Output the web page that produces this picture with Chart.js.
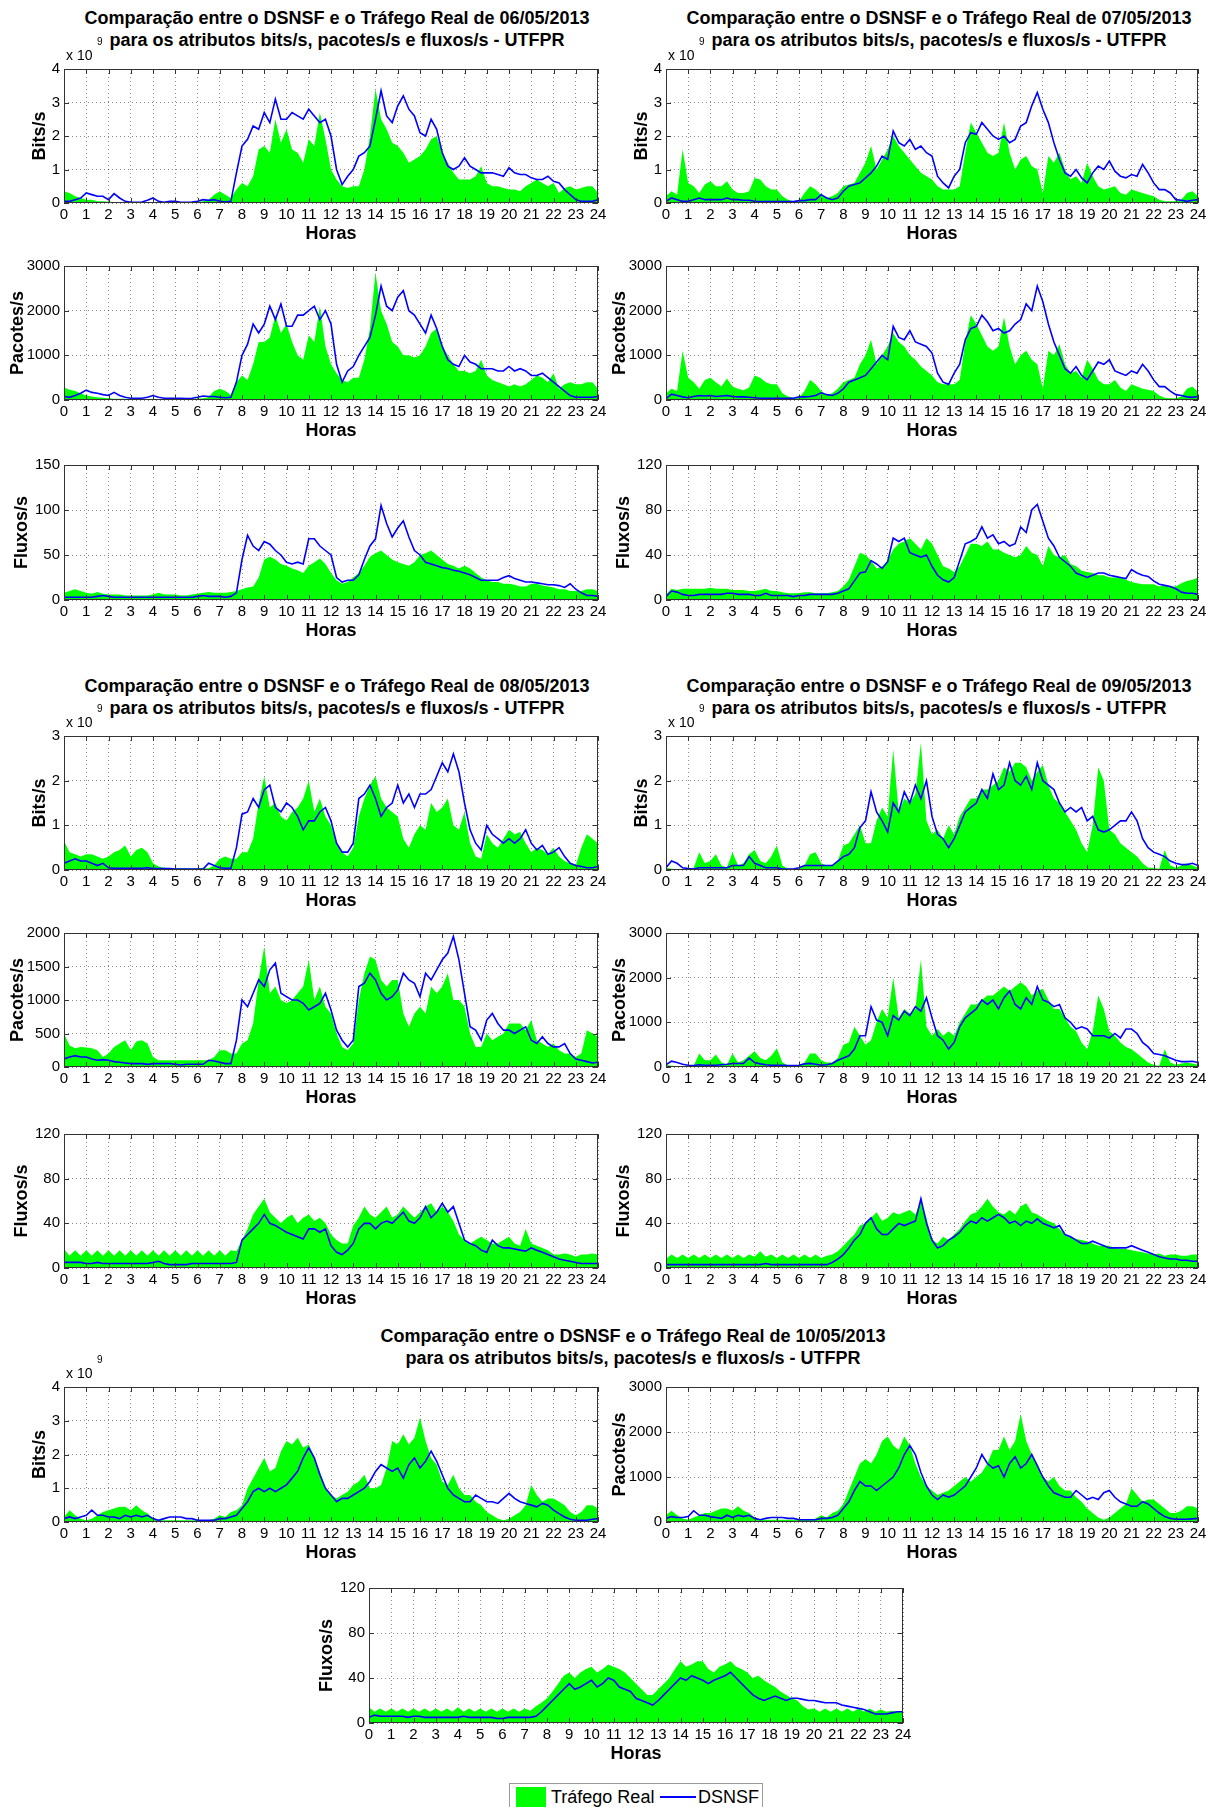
<!DOCTYPE html>
<html lang="pt">
<head>
<meta charset="utf-8">
<title>DSNSF x Tráfego Real - UTFPR</title>
<script src="https://cdn.jsdelivr.net/npm/chart.js@4.4.1/dist/chart.umd.min.js"></script>
<style>
  body { margin: 0; width: 1217px; height: 1807px; position: relative; background: #fff; overflow: hidden;
         font-family: 'Liberation Sans', Arial, Helvetica, sans-serif; color: #000; }
  canvas { position: absolute; }
  .titulo { position: absolute; width: 560px; text-align: center; font-weight: bold; font-size: 18px; line-height: 22px; white-space: nowrap; }
  .exp { position: absolute; font-size: 14px; line-height: 16px; }
  .exp9 { position: absolute; font-size: 10px; line-height: 12px; }
  #legenda { position: absolute; left: 509px; top: 1783px; width: 252px; height: 30px; border: 1px solid #999; background: #fff; font-size: 18px; }
  #legenda .patch { position: absolute; left: 6px; top: 3px; width: 30px; height: 20px; background: #00ff00; }
  #legenda .linha { position: absolute; left: 150px; top: 12px; width: 36px; height: 2px; background: #0000ff; }
  #legenda .txt { position: absolute; top: 2px; line-height: 22px; }
</style>
</head>
<body>
<div class="titulo" style="left:57px;top:7px">Comparação entre o DSNSF e o Tráfego Real de 06/05/2013<br>para os atributos bits/s, pacotes/s e fluxos/s - UTFPR</div>
<div class="titulo" style="left:659px;top:7px">Comparação entre o DSNSF e o Tráfego Real de 07/05/2013<br>para os atributos bits/s, pacotes/s e fluxos/s - UTFPR</div>
<div class="titulo" style="left:57px;top:675px">Comparação entre o DSNSF e o Tráfego Real de 08/05/2013<br>para os atributos bits/s, pacotes/s e fluxos/s - UTFPR</div>
<div class="titulo" style="left:659px;top:675px">Comparação entre o DSNSF e o Tráfego Real de 09/05/2013<br>para os atributos bits/s, pacotes/s e fluxos/s - UTFPR</div>
<div class="titulo" style="left:353px;top:1325px">Comparação entre o DSNSF e o Tráfego Real de 10/05/2013<br>para os atributos bits/s, pacotes/s e fluxos/s - UTFPR</div>

<div id="legenda">
  <span class="patch"></span><span class="txt" style="left:41px">Tráfego Real</span>
  <span class="linha"></span><span class="txt" style="left:188px">DSNSF</span>
</div>

<script>
// eixos
const hourTicks = [0,1,2,3,4,5,6,7,8,9,10,11,12,13,14,15,16,17,18,19,20,21,22,23,24];
const bitsTicks4 = [0, 1, 2, 3, 4];
const bitsTicks3 = [0, 1, 2, 3];
const pacTicks3000 = [0, 1000, 2000, 3000];
const pacTicks2000 = [0, 500, 1000, 1500, 2000];
const fluTicks150 = [0, 50, 100, 150];
const fluTicks120 = [0, 40, 80, 120];

// amostras a cada 15 min (0h a 24h); bits em unidades de 10^9
const real0605Bits = [
  0.35,0.3,0.2,0.15, 0.1,0.1,0.05,0.05, 0.04,0.03,0.03,0.03, 0.02,0.02,0.03,0.03,
  0.03,0.02,0.02,0.02, 0.02,0.02,0.02,0.03, 0.03,0.05,0.1,0.25, 0.35,0.25,0.15,0.4,
  0.6,0.5,0.8,1.6, 1.7,1.5,2.5,1.8, 2.2,1.6,1.5,1.2, 1.9,1.7,2.7,1.9,
  1.0,0.7,0.5,0.45, 0.5,0.5,1.0,2.0, 3.4,2.5,2.2,1.8, 1.7,1.5,1.2,1.3,
  1.4,1.6,1.9,2.0, 1.5,1.2,0.9,0.7, 0.7,0.7,0.8,1.1, 0.6,0.5,0.5,0.45,
  0.4,0.4,0.35,0.5, 0.6,0.7,0.6,0.5, 0.6,0.3,0.45,0.5, 0.4,0.45,0.5,0.5,
  0.3];
const dsnsf0605Bits = [
  0.05,0.05,0.1,0.15, 0.3,0.25,0.2,0.2, 0.1,0.28,0.15,0.05, 0.02,0.02,0.03,0.08,
  0.15,0.05,0.02,0.05, 0.05,0.02,0.02,0.03, 0.05,0.1,0.08,0.1, 0.05,0.03,0.05,0.9,
  1.7,1.9,2.3,2.2, 2.7,2.4,3.1,2.5, 2.5,2.7,2.6,2.5, 2.8,2.6,2.4,2.5,
  2.0,1.0,0.55,0.8, 1.0,1.4,1.5,1.7, 2.5,3.35,2.6,2.4, 2.9,3.2,2.8,2.6,
  2.1,2.0,2.5,2.2, 1.5,1.1,1.0,1.1, 1.35,1.1,1.0,0.9, 0.9,0.9,0.85,0.8,
  1.05,0.9,0.85,0.85, 0.75,0.7,0.7,0.8, 0.65,0.6,0.4,0.25, 0.1,0.05,0.05,0.05,
  0.1];
const real0605Pac = [
  280,230,200,150, 100,80,60,50, 40,30,30,30, 25,25,25,25,
  30,25,25,25, 25,25,25,30, 30,40,60,200, 250,200,120,400,
  550,450,800,1300, 1300,1400,1900,1500, 1700,1300,1000,900, 1450,1300,2100,1200,
  800,600,450,400, 500,500,900,1600, 2850,2000,1700,1300, 1200,1000,1000,950,
  1000,1200,1500,1600, 1200,1000,800,650, 650,600,650,900, 550,450,400,350,
  300,350,300,350, 450,550,500,400, 600,250,350,400, 350,350,400,400,
  250];
const dsnsf0605Pac = [
  80,60,100,150, 220,170,150,120, 100,170,100,60, 40,40,40,60,
  100,60,40,40, 40,40,30,40, 60,90,80,80, 60,50,60,400,
  1000,1250,1700,1500, 1700,2100,1800,2150, 1650,1650,1900,1900, 2000,2100,1800,2000,
  1700,800,400,650, 750,1000,1200,1400, 1900,2550,2100,2000, 2300,2450,2000,1900,
  1700,1500,1900,1600, 1200,900,800,750, 1000,850,800,700, 700,700,650,650,
  750,650,700,650, 550,550,600,500, 400,300,200,100, 60,60,60,60,
  80];
const real0605Flu = [
  8,10,12,10, 8,7,9,7, 6,6,6,5, 5,5,5,5,
  6,8,6,6, 6,5,5,6, 7,8,9,8, 8,8,9,10,
  12,14,15,25, 45,48,45,40, 38,35,33,30, 38,42,46,40,
  30,22,18,20, 25,30,38,48, 52,55,50,45, 42,40,38,42,
  50,52,55,50, 45,40,38,35, 38,35,30,25, 22,20,20,18,
  18,17,15,15, 18,18,16,15, 14,12,12,10, 10,10,12,12,
  10];
const dsnsf0605Flu = [
  3,3,3,3, 3,3,4,5, 4,3,3,3, 3,3,3,3,
  3,3,3,3, 3,3,3,3, 4,5,4,4, 4,3,4,8,
  45,72,60,55, 65,62,55,50, 42,40,42,40, 68,68,60,55,
  50,25,20,22, 22,28,45,60, 68,105,85,70, 80,88,70,55,
  50,42,40,38, 36,35,33,32, 30,28,25,22, 22,22,22,25,
  27,24,22,20, 20,19,18,17, 17,16,14,18, 12,8,5,5,
  4];

const real0705Bits = [
  0.2,0.35,0.25,1.6, 0.6,0.5,0.3,0.55, 0.65,0.5,0.5,0.65, 0.4,0.3,0.3,0.35,
  0.75,0.7,0.5,0.4, 0.4,0.2,0.1,0.05, 0.05,0.3,0.5,0.4, 0.25,0.15,0.2,0.3,
  0.5,0.55,0.6,0.9, 1.2,1.7,1.0,1.3, 1.6,2.0,1.7,1.5, 1.3,1.1,0.9,0.8,
  0.7,0.5,0.4,0.4, 0.4,0.5,1.5,2.4, 2.1,1.8,1.5,1.4, 1.5,2.4,1.5,1.0,
  1.3,1.4,1.1,1.0, 0.3,1.4,1.2,1.5, 1.0,0.7,0.8,0.6, 1.2,0.8,0.5,0.4,
  0.45,0.5,0.3,0.25, 0.4,0.35,0.3,0.25, 0.2,0.1,0.05,0.05, 0.05,0.1,0.3,0.35,
  0.2];
const dsnsf0705Bits = [
  0.05,0.15,0.1,0.05, 0.05,0.1,0.15,0.1, 0.1,0.1,0.1,0.15, 0.1,0.1,0.08,0.08,
  0.05,0.04,0.04,0.04, 0.04,0.04,0.04,0.04, 0.07,0.07,0.1,0.1, 0.25,0.15,0.1,0.15,
  0.35,0.5,0.55,0.6, 0.75,0.9,1.1,1.4, 1.3,2.15,1.8,1.7, 1.9,1.6,1.7,1.5,
  1.4,0.8,0.6,0.45, 0.8,1.0,1.8,2.1, 2.05,2.4,2.2,2.0, 1.9,2.0,1.8,1.9,
  2.3,2.4,2.9,3.3, 2.8,2.4,1.8,1.3, 0.9,0.8,1.0,0.75, 0.6,0.9,1.1,1.0,
  1.25,0.95,0.8,0.75, 0.85,0.8,1.15,0.9, 0.6,0.4,0.4,0.3, 0.1,0.08,0.05,0.08,
  0.1];
const real0705Pac = [
  150,250,200,1100, 500,400,250,450, 500,400,300,480, 300,250,220,280,
  550,500,400,350, 350,150,80,50, 50,200,450,350, 200,120,150,250,
  400,450,500,800, 1000,1350,800,1000, 1200,1500,1300,1200, 1000,900,750,650,
  550,400,350,350, 350,450,1300,1900, 1700,1450,1200,1100, 1200,1850,1200,800,
  1000,1100,900,800, 250,1100,1000,1250, 800,600,650,500, 900,700,450,350,
  350,450,280,200, 350,300,250,230, 200,100,50,40, 40,80,250,300,
  180];
const dsnsf0705Pac = [
  30,130,100,70, 50,80,100,90, 100,80,90,100, 80,70,70,60,
  50,40,40,40, 40,40,40,40, 70,70,80,100, 160,120,100,150,
  250,400,450,500, 550,700,850,1000, 900,1650,1400,1350, 1550,1300,1250,1200,
  1050,600,400,350, 600,800,1350,1600, 1650,1900,1750,1550, 1600,1500,1550,1700,
  1800,2150,2000,2550, 2200,1700,1300,1000, 700,600,750,550, 450,650,850,800,
  900,650,600,550, 650,600,800,650, 450,300,300,200, 120,100,70,60,
  80];
const real0705Flu = [
  5,10,9,10, 10,10,10,10, 11,10,10,10, 9,9,9,8,
  8,9,10,8, 8,7,6,6, 6,7,7,6, 6,6,7,8,
  12,18,30,42, 40,35,28,30, 35,45,50,52, 55,50,45,55,
  50,40,30,28, 25,30,40,50, 50,48,52,45, 45,42,40,38,
  40,48,42,40, 30,48,40,38, 40,32,30,26, 25,24,22,22,
  20,20,20,18, 16,15,14,14, 14,12,13,12, 12,15,17,18,
  20];
const dsnsf0705Flu = [
  3,8,7,5, 4,4,5,5, 5,5,5,6, 6,5,5,5,
  4,4,6,4, 4,4,4,3, 4,4,5,5, 5,5,5,6,
  8,10,17,24, 25,35,32,28, 34,55,52,55, 42,40,38,40,
  30,22,18,16, 20,35,50,52, 55,65,55,58, 50,52,48,50,
  65,60,80,85, 70,55,48,38, 34,30,24,22, 20,22,24,24,
  22,21,20,19, 27,24,22,21, 17,14,13,12, 10,7,6,6,
  5];

const real0805Bits = [
  0.65,0.4,0.35,0.3, 0.35,0.35,0.3,0.25, 0.3,0.4,0.45,0.55, 0.3,0.45,0.5,0.4,
  0.15,0.08,0.05,0.04, 0.04,0.04,0.04,0.03, 0.04,0.04,0.04,0.1, 0.25,0.3,0.25,0.25,
  0.4,0.4,0.7,1.5, 2.1,1.4,1.5,1.2, 1.1,1.3,1.4,1.6, 2.0,1.3,1.6,1.2,
  1.0,0.6,0.4,0.3, 0.5,1.2,1.6,1.9, 2.1,1.6,1.4,1.3, 1.2,0.7,0.5,0.8,
  1.0,0.9,1.5,1.3, 1.4,1.6,1.0,0.9, 1.3,0.6,0.3,0.25, 0.8,0.6,0.5,0.7,
  0.9,0.8,0.85,0.6, 0.4,0.5,0.45,0.35, 0.5,0.3,0.2,0.15, 0.1,0.5,0.8,0.7,
  0.6];
const dsnsf0805Bits = [
  0.15,0.2,0.25,0.2, 0.2,0.15,0.1,0.15, 0.05,0.04,0.04,0.04, 0.04,0.04,0.04,0.05,
  0.03,0.03,0.03,0.03, 0.02,0.02,0.02,0.02, 0.02,0.02,0.15,0.1, 0.05,0.04,0.04,0.5,
  1.25,1.3,1.6,1.4, 1.8,1.9,1.4,1.3, 1.5,1.4,1.2,0.9, 1.1,1.1,1.3,1.4,
  1.1,0.6,0.4,0.4, 0.6,1.6,1.7,1.9, 1.6,1.2,1.4,1.5, 1.9,1.5,1.7,1.4,
  1.7,1.7,1.8,2.1, 2.4,2.2,2.6,2.2, 1.5,0.9,0.6,0.45, 1.0,0.8,0.7,0.6,
  0.7,0.6,0.7,0.9, 0.6,0.45,0.55,0.35, 0.4,0.5,0.3,0.15, 0.1,0.08,0.05,0.05,
  0.08];
const real0805Pac = [
  500,320,280,300, 290,280,250,150, 200,300,350,400, 250,380,400,350,
  150,100,100,100, 100,100,100,100, 100,100,100,150, 250,250,200,200,
  350,400,650,1300, 1800,1100,1200,1000, 950,1000,1100,1200, 1600,1000,1200,900,
  800,500,300,250, 350,1000,1400,1650, 1600,1300,1200,1300, 1300,800,600,800,
  900,800,1200,1100, 1200,1400,1000,1000, 900,500,300,300, 500,400,450,500,
  650,650,650,550, 700,400,350,300, 350,250,200,200, 150,200,550,500,
  450];
const dsnsf0805Pac = [
  120,150,170,150, 150,120,100,110, 100,80,70,60, 50,50,50,40,
  50,50,50,50, 40,30,40,40, 40,40,100,90, 70,50,50,400,
  1000,900,1100,1300, 1200,1450,1550,1100, 1050,1000,1000,950, 850,900,950,1100,
  850,550,400,300, 400,1200,1250,1400, 1300,1100,1000,1050, 1150,1400,1300,1250,
  1050,1400,1300,1450, 1600,1700,1950,1600, 1100,600,550,400, 700,800,650,550,
  550,500,550,600, 400,350,450,350, 300,300,350,200, 120,100,80,60,
  70];
const real0805Flu = [
  17,11,16,11, 16,11,16,11, 16,11,16,11, 16,11,16,11,
  16,11,16,11, 16,11,16,11, 16,11,16,11, 16,11,16,15,
  25,35,48,55, 62,50,45,40, 45,48,40,45, 48,42,45,40,
  30,25,22,22, 38,45,55,48, 45,50,55,45, 48,55,50,45,
  50,55,58,50, 55,50,42,30, 25,22,25,28, 25,22,22,25,
  28,22,20,35, 22,20,18,16, 12,12,13,12, 10,12,12,13,
  12];
const dsnsf0805Flu = [
  5,5,5,5, 4,4,5,4, 4,4,4,4, 4,4,4,4,
  5,6,4,3, 3,3,3,4, 4,4,4,4, 4,4,4,5,
  25,30,35,40, 48,40,38,35, 32,30,28,26, 35,35,32,35,
  20,14,12,16, 22,35,40,40, 35,40,42,40, 45,50,42,40,
  45,55,45,50, 58,50,55,40, 25,22,20,16, 14,25,20,18,
  18,17,16,15, 18,16,14,12, 10,8,7,6, 5,4,4,4,
  4];

const real0905Bits = [
  0.05,0.03,0.02,0.02, 0.02,0.05,0.4,0.15, 0.2,0.35,0.1,0.05, 0.4,0.1,0.15,0.35,
  0.45,0.2,0.15,0.3, 0.55,0.1,0.03,0.02, 0.02,0.1,0.35,0.4, 0.15,0.1,0.1,0.2,
  0.55,0.6,0.8,1.0, 0.6,0.6,1.1,1.4, 1.2,2.7,1.3,1.6, 1.5,1.7,2.85,1.1,
  0.8,0.9,0.7,1.0, 0.8,1.2,1.4,1.6, 1.6,1.8,1.8,1.9, 2.0,2.3,2.2,2.4,
  2.4,2.3,2.0,2.2, 2.35,1.9,1.6,1.5, 1.3,1.1,0.9,0.6, 0.4,1.0,2.3,2.0,
  0.9,0.8,0.6,0.5, 0.4,0.3,0.15,0.05, 0.05,0.02,0.45,0.1, 0.05,0.1,0.15,0.1,
  0.05];
const dsnsf0905Bits = [
  0.05,0.2,0.15,0.05, 0.03,0.02,0.05,0.05, 0.05,0.05,0.05,0.05, 0.1,0.1,0.1,0.3,
  0.15,0.1,0.05,0.05, 0.05,0.02,0.02,0.02, 0.05,0.1,0.1,0.1, 0.1,0.1,0.1,0.2,
  0.3,0.35,0.5,0.95, 1.1,1.75,1.3,1.1, 0.85,1.5,1.3,1.75, 1.5,1.9,1.6,2.0,
  1.2,0.8,0.7,0.5, 0.7,1.0,1.3,1.4, 1.5,1.8,1.6,2.15, 1.8,1.9,2.4,2.0,
  1.9,2.1,1.8,2.4, 2.0,1.9,1.8,1.5, 1.3,1.4,1.3,1.4, 1.1,1.2,0.9,0.85,
  0.9,1.0,1.1,1.1, 1.3,1.1,0.7,0.5, 0.4,0.35,0.3,0.2, 0.15,0.12,0.12,0.15,
  0.1];
const real0905Pac = [
  50,30,20,20, 20,30,300,150, 150,280,100,50, 300,100,150,250,
  350,200,150,250, 420,100,40,30, 30,100,300,300, 150,100,100,200,
  500,550,900,700, 500,600,1000,1300, 1100,2000,1100,1300, 1200,1300,2400,900,
  700,850,700,800, 700,1000,1200,1400, 1400,1500,1600,1600, 1700,1800,1700,1800,
  1900,1800,1600,1700, 1750,1500,1300,1300, 1100,900,800,550, 400,800,1600,1300,
  800,700,550,450, 400,300,200,100, 50,20,400,100, 50,80,100,80,
  50];
const dsnsf0905Pac = [
  50,130,100,60, 40,30,50,40, 40,40,50,60, 80,80,80,200,
  100,70,50,40, 40,40,30,30, 40,70,80,60, 40,50,80,150,
  200,250,400,700, 700,1350,1050,1000, 700,1150,1050,1250, 1150,1350,1250,1550,
  1100,700,600,400, 550,900,1100,1200, 1300,1500,1400,1500, 1300,1550,1700,1400,
  1300,1550,1400,1800, 1500,1450,1350,1400, 1100,1000,850,900, 850,700,700,700,
  650,750,650,850, 850,750,550,450, 300,280,250,200, 150,120,120,130,
  100];
const real0905Flu = [
  8,12,9,12, 9,12,9,12, 9,12,9,12, 9,12,9,12,
  10,15,10,12, 9,12,9,12, 9,12,9,12, 9,11,12,15,
  20,25,30,38, 40,45,50,42, 45,50,48,50, 52,48,60,45,
  25,22,28,25, 30,35,42,48, 50,55,62,55, 50,48,52,48,
  55,58,50,48, 45,42,40,35, 30,28,26,25, 24,22,20,20,
  20,18,17,17, 16,15,14,13, 12,13,11,12, 12,11,11,12,
  12];
const dsnsf0905Flu = [
  3,3,3,3, 3,3,3,3, 3,3,3,3, 3,3,3,3,
  3,3,4,3, 3,3,3,3, 3,3,3,3, 3,3,5,8,
  12,18,25,30, 40,45,35,30, 30,35,40,38, 40,42,62,40,
  25,18,20,25, 28,32,38,42, 40,45,42,45, 48,45,40,42,
  38,42,40,44, 40,38,36,38, 30,28,25,22, 22,24,22,20,
  18,18,18,18, 20,18,16,14, 12,10,9,8, 8,7,7,6,
  6];

const real1005Bits = [
  0.15,0.35,0.2,0.1, 0.05,0.1,0.2,0.3, 0.35,0.4,0.45,0.45, 0.35,0.5,0.35,0.25,
  0.1,0.05,0.05,0.05, 0.05,0.05,0.05,0.05, 0.05,0.05,0.05,0.1, 0.2,0.15,0.3,0.35,
  0.5,1.0,1.3,1.6, 1.9,1.5,1.6,2.1, 2.4,2.3,2.5,2.2, 2.3,1.9,1.5,1.0,
  0.8,0.7,0.8,0.9, 1.1,1.2,1.4,1.0, 1.0,1.1,1.6,2.4, 2.3,2.6,2.3,2.5,
  3.1,2.4,1.9,1.7, 1.2,1.1,1.4,1.0, 0.8,0.8,0.6,0.5, 0.3,0.2,0.1,0.05,
  0.1,0.2,0.3,0.5, 1.1,0.8,0.6,0.7, 0.7,0.6,0.5,0.3, 0.2,0.3,0.5,0.5,
  0.4];
const dsnsf1005Bits = [
  0.1,0.15,0.1,0.15, 0.2,0.35,0.2,0.2, 0.15,0.15,0.1,0.2, 0.15,0.2,0.15,0.2,
  0.1,0.05,0.1,0.15, 0.15,0.15,0.1,0.1, 0.05,0.05,0.05,0.05, 0.1,0.1,0.15,0.2,
  0.4,0.6,0.9,1.0, 0.9,1.0,0.9,1.0, 1.1,1.3,1.5,1.9, 2.2,1.9,1.4,1.0,
  0.8,0.6,0.7,0.7, 0.8,0.9,1.0,1.2, 1.5,1.7,1.6,1.5, 1.6,1.3,1.7,1.9,
  1.6,1.8,2.1,1.8, 1.4,1.0,0.8,0.7, 0.6,0.6,0.8,0.7, 0.6,0.6,0.55,0.7,
  0.85,0.7,0.6,0.55, 0.5,0.45,0.55,0.5, 0.35,0.25,0.15,0.08, 0.05,0.05,0.05,0.08,
  0.1];
const real1005Pac = [
  150,250,150,80, 50,100,150,200, 200,250,300,300, 250,350,250,200,
  100,50,50,50, 50,50,50,50, 50,50,50,80, 150,100,200,250,
  400,700,1000,1300, 1400,1300,1500,1800, 1900,1700,1600,1900, 1700,1300,1000,800,
  700,600,650,700, 800,900,1000,900, 1000,1100,1300,1600, 1600,1900,1600,1800,
  2400,1800,1500,1300, 1000,900,1000,800, 700,700,550,450, 300,200,100,50,
  100,200,300,400, 750,600,450,500, 500,400,300,200, 200,250,350,350,
  300];
const dsnsf1005Pac = [
  80,120,100,100, 120,250,150,150, 120,100,80,150, 100,150,120,150,
  80,50,80,100, 100,100,80,80, 50,50,50,50, 80,80,100,150,
  300,450,700,900, 800,800,700,800, 900,1000,1200,1500, 1700,1500,1100,800,
  600,500,600,550, 600,700,800,1000, 1200,1500,1300,1200, 1250,1000,1300,1450,
  1200,1300,1500,1250, 1000,800,650,600, 550,550,700,600, 500,550,500,650,
  700,550,450,400, 350,350,450,400, 300,200,120,80, 60,60,60,70,
  80];
const real1005Flu = [
  14,10,13,10, 13,10,13,10, 13,10,13,10, 13,10,13,10,
  14,10,13,10, 13,10,13,10, 13,10,13,10, 13,11,15,18,
  22,28,35,42, 45,40,45,48, 50,45,48,52, 50,48,45,40,
  35,30,25,25, 30,35,40,48, 55,50,52,55, 55,48,45,50,
  52,55,50,48, 45,40,42,38, 35,32,28,25, 22,20,15,12,
  13,10,13,10, 13,10,13,10, 13,10,13,10, 12,10,11,10,
  10];
const dsnsf1005Flu = [
  5,7,6,6, 6,6,6,5, 6,6,5,5, 5,5,5,5,
  5,6,5,5, 5,5,5,4, 4,5,5,5, 5,5,6,10,
  15,20,25,30, 35,30,32,35, 38,32,35,40, 38,32,30,28,
  22,20,18,16, 20,25,30,35, 40,38,42,40, 38,35,38,40,
  42,45,40,35, 30,25,22,20, 22,24,22,20, 22,22,21,20,
  20,19,18,18, 18,16,15,14, 13,12,10,8, 8,8,9,10,
  10];

const FONT = "'Liberation Sans', Arial, Helvetica, sans-serif";

// posição de cada gráfico (área de plotagem em px)
const panels = [
  { real: real0605Bits, dsnsf: dsnsf0605Bits, yTicks: bitsTicks4, yLabel: 'Bits/s', x: 64, y: 66, w: 534, h: 137, yW: 35, exp: true },
  { real: real0705Bits, dsnsf: dsnsf0705Bits, yTicks: bitsTicks4, yLabel: 'Bits/s', x: 666, y: 66, w: 532, h: 137, yW: 35, exp: true },
  { real: real0605Pac, dsnsf: dsnsf0605Pac, yTicks: pacTicks3000, yLabel: 'Pacotes/s', x: 64, y: 263, w: 534, h: 137, yW: 57 },
  { real: real0705Pac, dsnsf: dsnsf0705Pac, yTicks: pacTicks3000, yLabel: 'Pacotes/s', x: 666, y: 263, w: 532, h: 137, yW: 57 },
  { real: real0605Flu, dsnsf: dsnsf0605Flu, yTicks: fluTicks150, yLabel: 'Fluxos/s', x: 64, y: 462, w: 534, h: 138, yW: 53 },
  { real: real0705Flu, dsnsf: dsnsf0705Flu, yTicks: fluTicks120, yLabel: 'Fluxos/s', x: 666, y: 462, w: 532, h: 138, yW: 53 },
  { real: real0805Bits, dsnsf: dsnsf0805Bits, yTicks: bitsTicks3, yLabel: 'Bits/s', x: 64, y: 733, w: 534, h: 137, yW: 35, exp: true },
  { real: real0905Bits, dsnsf: dsnsf0905Bits, yTicks: bitsTicks3, yLabel: 'Bits/s', x: 666, y: 733, w: 532, h: 137, yW: 35, exp: true },
  { real: real0805Pac, dsnsf: dsnsf0805Pac, yTicks: pacTicks2000, yLabel: 'Pacotes/s', x: 64, y: 930, w: 534, h: 137, yW: 57 },
  { real: real0905Pac, dsnsf: dsnsf0905Pac, yTicks: pacTicks3000, yLabel: 'Pacotes/s', x: 666, y: 930, w: 532, h: 137, yW: 57 },
  { real: real0805Flu, dsnsf: dsnsf0805Flu, yTicks: fluTicks120, yLabel: 'Fluxos/s', x: 64, y: 1131, w: 534, h: 137, yW: 53 },
  { real: real0905Flu, dsnsf: dsnsf0905Flu, yTicks: fluTicks120, yLabel: 'Fluxos/s', x: 666, y: 1131, w: 532, h: 137, yW: 53 },
  { real: real1005Bits, dsnsf: dsnsf1005Bits, yTicks: bitsTicks4, yLabel: 'Bits/s', x: 64, y: 1384, w: 534, h: 138, yW: 35, exp: true },
  { real: real1005Pac, dsnsf: dsnsf1005Pac, yTicks: pacTicks3000, yLabel: 'Pacotes/s', x: 666, y: 1384, w: 532, h: 138, yW: 57 },
  { real: real1005Flu, dsnsf: dsnsf1005Flu, yTicks: fluTicks120, yLabel: 'Fluxos/s', x: 369, y: 1585, w: 534, h: 138, yW: 53 }
];

// caixa em volta do gráfico e marcas dos ticks (estilo MATLAB)
const framePlugin = {
  id: 'frame',
  afterDraw(chart) {
    const { ctx, chartArea: a, scales } = chart;
    ctx.save();
    ctx.strokeStyle = '#333';
    ctx.lineWidth = 1;
    ctx.beginPath();
    scales.x.ticks.forEach(t => {
      const px = Math.round(scales.x.getPixelForValue(t.value)) + 0.5;
      ctx.moveTo(px, a.bottom); ctx.lineTo(px, a.bottom - 5);
      ctx.moveTo(px, a.top); ctx.lineTo(px, a.top + 5);
    });
    scales.y.ticks.forEach(t => {
      const py = Math.round(scales.y.getPixelForValue(t.value)) + 0.5;
      ctx.moveTo(a.left, py); ctx.lineTo(a.left + 5, py);
      ctx.moveTo(a.right, py); ctx.lineTo(a.right - 5, py);
    });
    ctx.stroke();
    ctx.strokeRect(Math.round(a.left) + 0.5, Math.round(a.top) + 0.5, Math.round(a.width) - 1, Math.round(a.height) - 1);
    ctx.restore();
  }
};

function toPoints(arr) {
  return arr.map((v, i) => ({ x: i * 24 / (arr.length - 1), y: v }));
}

panels.forEach(p => {
  const canvas = document.createElement('canvas');
  const cw = p.yW + p.w + 14;
  const ch = 10 + p.h + 42;
  canvas.width = cw;
  canvas.height = ch;
  canvas.style.left = (p.x - p.yW) + 'px';
  canvas.style.top = (p.y - 10) + 'px';
  canvas.style.width = cw + 'px';
  canvas.style.height = ch + 'px';
  document.body.appendChild(canvas);

  if (p.exp) {
    const e = document.createElement('div');
    e.className = 'exp';
    e.textContent = 'x 10';
    e.style.left = (p.x + 2) + 'px';
    e.style.top = (p.y - 19) + 'px';
    document.body.appendChild(e);
    const n = document.createElement('div');
    n.className = 'exp9';
    n.textContent = '9';
    n.style.left = (p.x + 33) + 'px';
    n.style.top = (p.y - 30) + 'px';
    document.body.appendChild(n);
  }

  const gridOpts = { color: 'rgba(0,0,0,0.45)', lineWidth: 1, drawTicks: false };
  const borderOpts = { display: false, dash: [1, 3] };

  new Chart(canvas, {
    type: 'line',
    data: {
      datasets: [
        { label: 'DSNSF', data: toPoints(p.dsnsf), borderColor: '#0000ff', borderWidth: 1.6,
          pointRadius: 0, fill: false, tension: 0, order: 0 },
        { label: 'Tráfego Real', data: toPoints(p.real), borderWidth: 0, borderColor: 'rgba(0,0,0,0)',
          backgroundColor: '#00ff00', pointRadius: 0, fill: 'origin', tension: 0, order: 1 }
      ]
    },
    options: {
      responsive: false,
      animation: false,
      devicePixelRatio: 1,
      layout: { padding: { top: 10, right: 14, left: 0, bottom: 0 } },
      plugins: { legend: { display: false }, tooltip: { enabled: false } },
      scales: {
        x: {
          type: 'linear', min: 0, max: 24,
          afterBuildTicks: s => { s.ticks = hourTicks.map(v => ({ value: v })); },
          afterFit: s => { s.height = 42; },
          grid: gridOpts, border: borderOpts,
          ticks: { autoSkip: false, maxRotation: 0, padding: 3, color: '#000',
                   font: { family: FONT, size: 15 }, callback: v => String(v) },
          title: { display: true, text: 'Horas', color: '#000', padding: 0,
                   font: { family: FONT, size: 18, weight: 'bold' } }
        },
        y: {
          min: 0, max: p.yTicks[p.yTicks.length - 1],
          afterBuildTicks: s => { s.ticks = p.yTicks.map(v => ({ value: v })); },
          afterFit: s => { s.width = p.yW; },
          grid: gridOpts, border: borderOpts,
          ticks: { padding: 4, color: '#000', font: { family: FONT, size: 15 }, callback: v => String(v) },
          title: { display: true, text: p.yLabel, color: '#000', padding: 0,
                   font: { family: FONT, size: 18, weight: 'bold' } }
        }
      }
    },
    plugins: [framePlugin]
  });
});
</script>
</body>
</html>
